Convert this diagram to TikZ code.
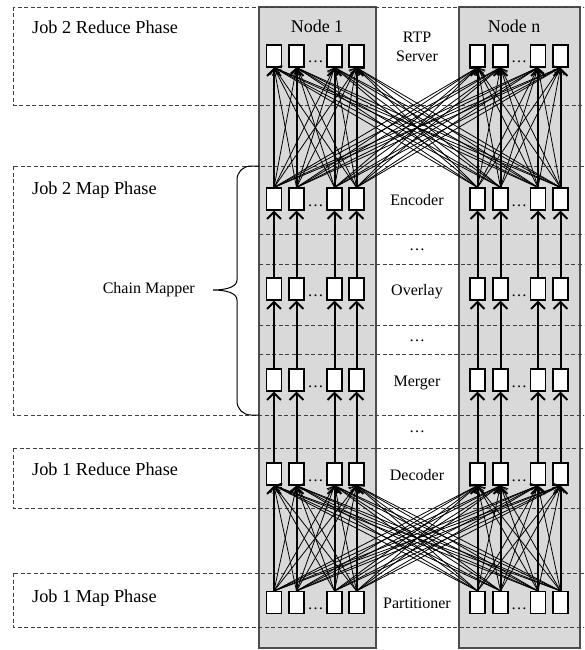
\documentclass[tikz,border=0pt]{standalone}
\usepackage{fontspec}
\setmainfont{Liberation Serif}
\usetikzlibrary{arrows.meta}
\definecolor{colfill}{HTML}{D9D9D9}
\definecolor{colline}{HTML}{4D4D4D}
\definecolor{dashink}{HTML}{404040}
% one row of task boxes: 4 in Node 1, 4 in Node n
\newcommand{\cellrow}[2]{\foreach \x [count=\k] in {274,296.5,334.5,356.5,477.5,500.5,538,560.5}{\node[cell] (#1-\k) at (\x,#2) {};}
\node[dotlbl] (#1-d1) at (315.5,#2+7) {\dots};\node[dotlbl] (#1-d2) at (519,#2+7) {\dots};}
% every box of the lower row feeds every box of the upper row
\newcommand{\fullmesh}[2]{\foreach \i in {1,...,8}{\foreach \j in {1,...,8}{\ifnum\i=\j\else\draw[thinarr] (#1-\i.north)--(#2-\j.south);\fi}}
\foreach \i in {1,...,8}{\draw[thickarr] (#1-\i.north)--(#2-\i.south);}}

\begin{document}
\begin{tikzpicture}[x=1pt,y=-1pt,
  cell/.style={draw,fill=white,line width=1.1pt,minimum width=15pt,minimum height=22pt,inner sep=0pt},
  dotlbl/.style={font=\fontsize{16}{18}\selectfont,anchor=base,inner sep=0pt},
  joblbl/.style={font=\fontsize{18.3}{20}\selectfont,anchor=base west,inner sep=0pt},
  nodelbl/.style={font=\fontsize{18}{20}\selectfont,anchor=base,inner sep=0pt},
  midlbl/.style={font=\fontsize{16}{19}\selectfont,anchor=base,inner sep=0pt,align=center},
  phase/.style={dashink,line width=0.8pt,dash pattern=on 4pt off 2.5pt},
  colbox/.style={fill=colfill,draw=colline,line width=1.2pt},
  thickarr/.style={line width=2pt,-{Straight Barb[length=7pt,width=14pt]}},
  thinarr/.style={line width=0.8pt,-{Straight Barb[length=6pt,width=10pt]}}]
\clip (0,0) rectangle (584,650);
\draw[colbox] (259,7) rectangle (376,648);\draw[colbox] (459,7) rectangle (580,648);
% phases
\draw[phase] (13,7) rectangle (592,105);
\draw[phase] (13,166) rectangle (592,415);
\draw[phase] (13,448) rectangle (592,508);
\draw[phase] (13,573) rectangle (592,627);
\foreach \y in {234,264,325,354}{\draw[phase] (259,\y)--(592,\y);}
% task boxes
\cellrow{rtp}{56}
\cellrow{enc}{199}
\cellrow{ovl}{289}
\cellrow{mrg}{380}
\cellrow{dec}{474}
\cellrow{par}{602.5}
% connectors
\fullmesh{par}{dec}
\fullmesh{enc}{rtp}
\foreach \i in {1,...,8}{\draw[thickarr] (dec-\i.north)--(mrg-\i.south);\draw[thickarr] (mrg-\i.north)--(ovl-\i.south);\draw[thickarr] (ovl-\i.north)--(enc-\i.south);}
% chain mapper brace
\draw[line width=1pt] (259,166)--(251,166) .. controls (243,166) and (237,172) .. (237,180)--(237,280) .. controls (237,287) and (226,290) .. (213,290) .. controls (226,290) and (237,293) .. (237,300)--(237,401) .. controls (237,409) and (243,415) .. (251,415)--(259,415);
% labels
\node[joblbl] (j2r) at (32,34) {Job 2 Reduce Phase};
\node[joblbl] (j2m) at (32,194) {Job 2 Map Phase};
\node[joblbl] (j1r) at (32,475) {Job 1 Reduce Phase};
\node[joblbl] (j1m) at (32,602) {Job 1 Map Phase};
\node[midlbl,anchor=base east] (cm) at (195,293) {Chain Mapper};
\node[nodelbl] (n1) at (317,33) {Node 1};
\node[nodelbl] (nn) at (514,33) {Node n};
\node[midlbl,anchor=center] (rtp) at (417,46.5) {RTP\\Server};
\node[midlbl] (encl) at (417,205) {Encoder};
\node[midlbl] (d1) at (417,250) {\dots};
\node[midlbl] (ovll) at (417,295) {Overlay};
\node[midlbl] (d2) at (417,341) {\dots};
\node[midlbl] (mrgl) at (417,386) {Merger};
\node[midlbl] (d3) at (417,432) {\dots};
\node[midlbl] (decl) at (417,480) {Decoder};
\node[midlbl] (parl) at (417,608.5) {Partitioner};
\end{tikzpicture}
\end{document}
